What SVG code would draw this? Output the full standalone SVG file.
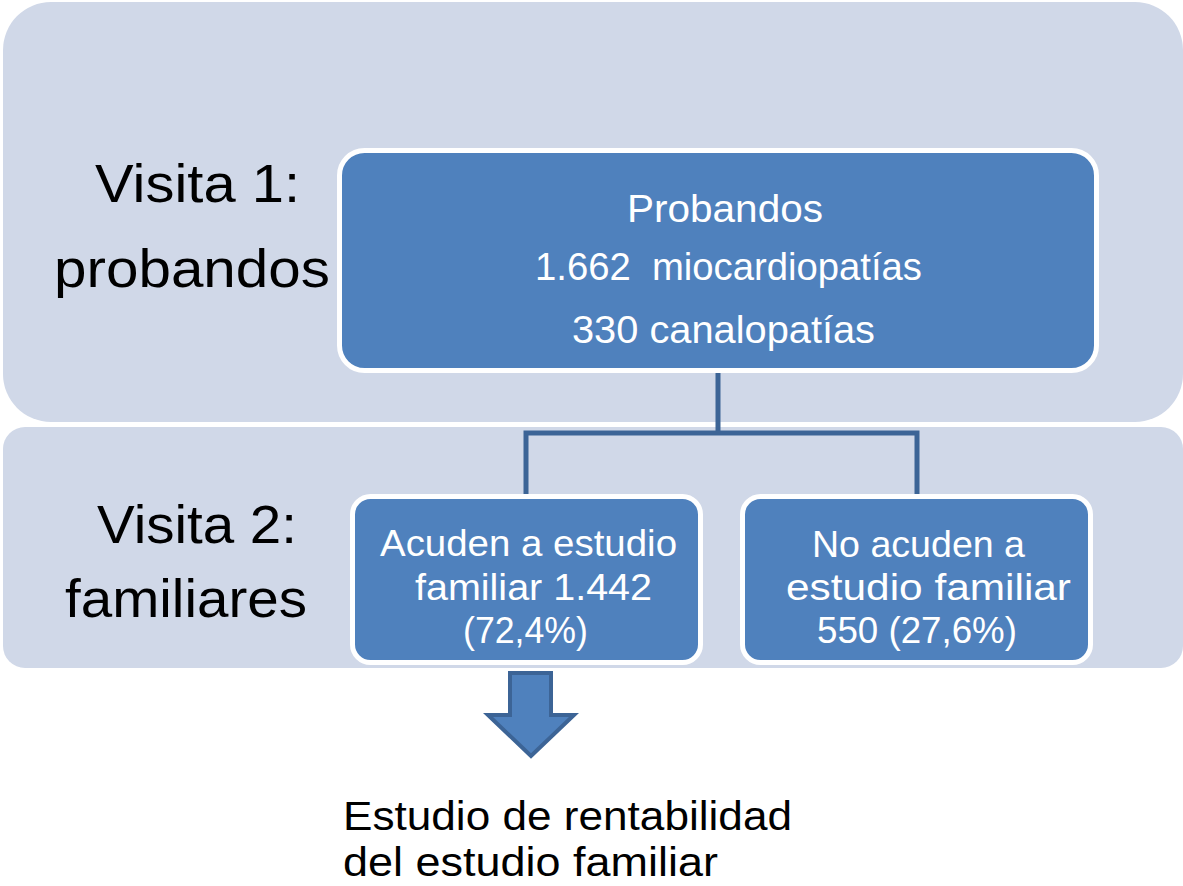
<svg xmlns="http://www.w3.org/2000/svg" width="1183" height="886" viewBox="0 0 1183 886">
<style>
.band{fill:#D0D8E8}
.box{fill:#4F81BD;stroke:#FFFFFF;stroke-width:5}
.lbl{font-family:"Liberation Sans",Arial,sans-serif;fill:#000000}
.wt{font-family:"Liberation Sans",Arial,sans-serif;fill:#FFFFFF;text-anchor:start}
.conn{fill:none;stroke:#3C6496;stroke-width:5}
</style>
<rect width="1183" height="886" fill="#FFFFFF"/>
<g id="band1"><rect class="band" x="3" y="2" width="1180" height="420" rx="48"/></g>
<g id="band2"><rect class="band" x="3" y="427" width="1180" height="241" rx="22"/></g>
<g id="label1">
<text class="lbl" x="95" y="202" font-size="54" textLength="205" lengthAdjust="spacingAndGlyphs">Visita 1:</text>
<text class="lbl" x="54" y="287" font-size="54" textLength="276" lengthAdjust="spacingAndGlyphs">probandos</text>
</g>
<g id="label2">
<text class="lbl" x="97" y="543" font-size="54" textLength="200" lengthAdjust="spacingAndGlyphs">Visita 2:</text>
<text class="lbl" x="65" y="617" font-size="54" textLength="242" lengthAdjust="spacingAndGlyphs">familiares</text>
</g>
<g id="connectors">
<path class="conn" d="M718 372 V433 M526 495 V433 H917 V495"/>
</g>
<g id="probandos">
<rect class="box" x="339.5" y="150.5" width="757" height="220" rx="25"/>
<text class="wt" x="627" y="222" font-size="38" textLength="196" lengthAdjust="spacingAndGlyphs">Probandos</text>
<text class="wt" x="535" y="280" font-size="38" textLength="387" lengthAdjust="spacingAndGlyphs" xml:space="preserve">1.662  miocardiopatías</text>
<text class="wt" x="572" y="343" font-size="38" textLength="303" lengthAdjust="spacingAndGlyphs">330 canalopatías</text>
</g>
<g id="acuden">
<rect class="box" x="352.5" y="496.5" width="348" height="166" rx="18"/>
<text class="wt" x="380" y="556" font-size="37" textLength="297" lengthAdjust="spacingAndGlyphs">Acuden a estudio</text>
<text class="wt" x="415" y="600" font-size="37" textLength="237" lengthAdjust="spacingAndGlyphs">familiar 1.442</text>
<text class="wt" x="463" y="643" font-size="37" textLength="125" lengthAdjust="spacingAndGlyphs">(72,4%)</text>
</g>
<g id="noacuden">
<rect class="box" x="742.5" y="496.5" width="348" height="166" rx="18"/>
<text class="wt" x="812" y="557" font-size="37" textLength="213" lengthAdjust="spacingAndGlyphs">No acuden a</text>
<text class="wt" x="786" y="600" font-size="37" textLength="285" lengthAdjust="spacingAndGlyphs">estudio familiar</text>
<text class="wt" x="817" y="643" font-size="37" textLength="200" lengthAdjust="spacingAndGlyphs">550 (27,6%)</text>
</g>
<g id="arrow">
<path d="M510 673 H551 V715 H574 L531 756 L488 715 H510 Z" fill="#4F81BD" stroke="#3C6496" stroke-width="4" stroke-linejoin="miter"/>
</g>
<g id="result">
<text class="lbl" x="343" y="830" font-size="41" textLength="449" lengthAdjust="spacingAndGlyphs">Estudio de rentabilidad</text>
<text class="lbl" x="343" y="876" font-size="41" textLength="375" lengthAdjust="spacingAndGlyphs">del estudio familiar</text>
</g>
</svg>
